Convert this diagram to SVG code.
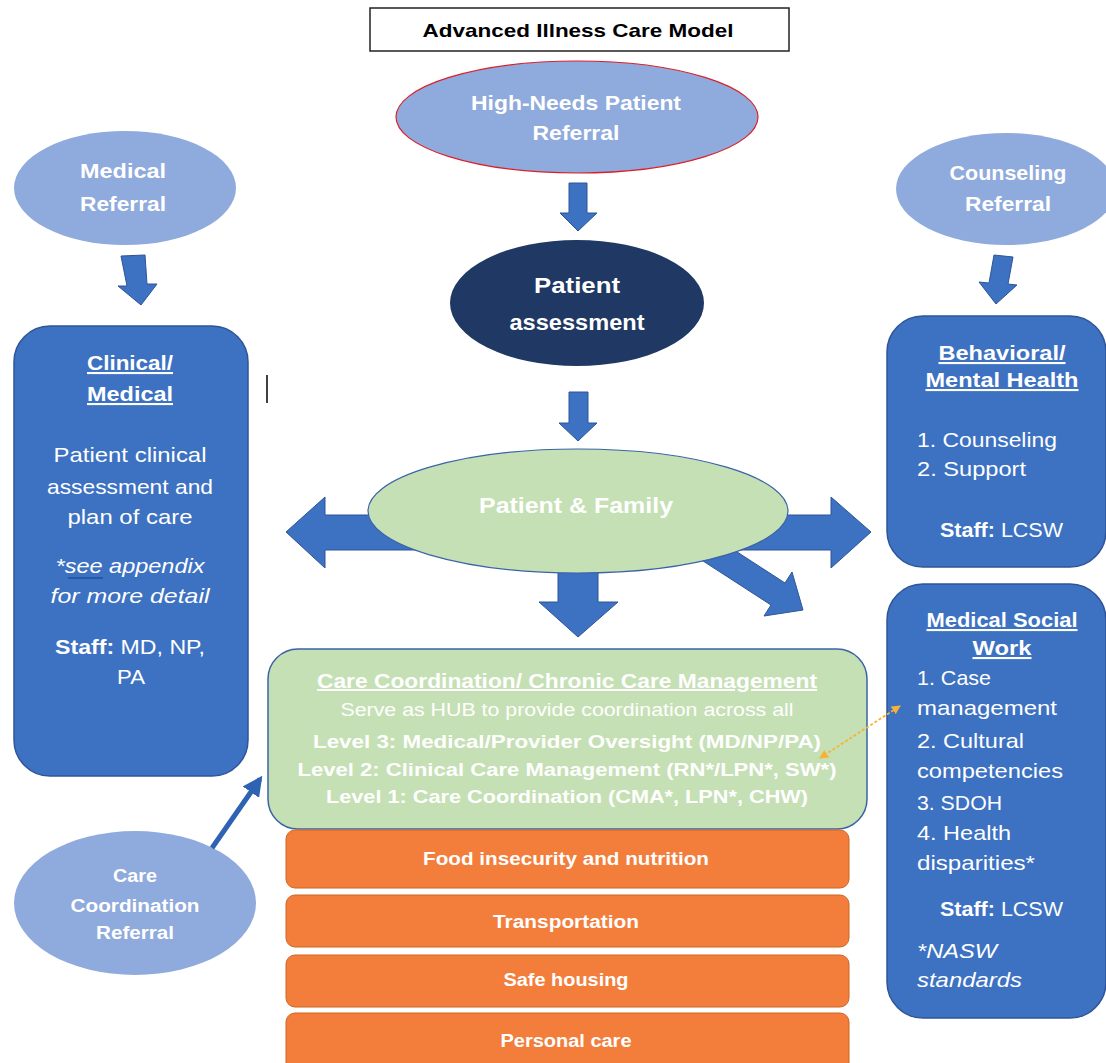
<svg xmlns="http://www.w3.org/2000/svg" width="1106" height="1063" viewBox="0 0 1106 1063">
<style>
text{font-family:"Liberation Sans",Arial,sans-serif;fill:#fff;text-anchor:middle}
.b{font-weight:bold}
.i{font-style:italic}
.u{text-decoration:underline}
.l{text-anchor:start}
.ref{fill:#8faadc}
.box{fill:#3d71c2;stroke:#2f5597;stroke-width:1.5}
.blk{fill:#3d71c2;stroke:#2f5597;stroke-width:1}
.org{fill:#f37e3b;stroke:#cc6623;stroke-width:1}
.ot{font-size:18px;font-weight:bold}
</style>
<defs>
<marker id="ah" viewBox="0 0 10 10" refX="8" refY="5" markerWidth="4" markerHeight="4" orient="auto-start-reverse"><path d="M0,0 L10,5 L0,10 Z" fill="#2e62b3"/></marker>
<marker id="oh" viewBox="0 0 10 10" refX="9" refY="5" markerWidth="9" markerHeight="9" markerUnits="userSpaceOnUse" orient="auto-start-reverse"><path d="M0,0 L10,5 L0,10 Z" fill="#f7b233"/></marker>
</defs>
<rect width="1106" height="1063" fill="#fff"/>

<g id="title">
<rect x="370" y="8" width="419" height="43" fill="#fff" stroke="#222" stroke-width="1.5"/>
<text x="578" y="37" class="b" style="fill:#000;font-size:19px" textLength="311" lengthAdjust="spacingAndGlyphs">Advanced Illness Care Model</text>
</g>

<g id="high-needs-referral">
<ellipse cx="577" cy="117" rx="181" ry="56" class="ref" stroke="#d9202a" stroke-width="1.2"/>
<text x="576" y="110" class="b" font-size="21" textLength="210" lengthAdjust="spacingAndGlyphs">High-Needs Patient</text>
<text x="576" y="140" class="b" font-size="21" textLength="87" lengthAdjust="spacingAndGlyphs">Referral</text>
</g>

<g id="medical-referral">
<ellipse cx="125" cy="188" rx="111" ry="57" class="ref"/>
<text x="123" y="178" class="b" font-size="21" textLength="86" lengthAdjust="spacingAndGlyphs">Medical</text>
<text x="123" y="211" class="b" font-size="21" textLength="86" lengthAdjust="spacingAndGlyphs">Referral</text>
</g>

<g id="counseling-referral">
<ellipse cx="1006" cy="189" rx="110" ry="56" class="ref"/>
<text x="1008" y="180" class="b" font-size="21" textLength="117" lengthAdjust="spacingAndGlyphs">Counseling</text>
<text x="1008" y="211" class="b" font-size="21" textLength="86" lengthAdjust="spacingAndGlyphs">Referral</text>
</g>

<g id="clinical-medical">
<rect x="14" y="326" width="234" height="450" rx="36" class="box"/>
<text x="130" y="370" class="b u" font-size="21" textLength="86" lengthAdjust="spacingAndGlyphs">Clinical/</text>
<text x="130" y="401" class="b u" font-size="21" textLength="86" lengthAdjust="spacingAndGlyphs">Medical</text>
<text x="130" y="462" font-size="21" textLength="153" lengthAdjust="spacingAndGlyphs">Patient clinical</text>
<text x="130" y="494" font-size="21" textLength="166" lengthAdjust="spacingAndGlyphs">assessment and</text>
<text x="130" y="524" font-size="21" textLength="125" lengthAdjust="spacingAndGlyphs">plan of care</text>
<text x="130" y="573" class="i" font-size="21" textLength="149" lengthAdjust="spacingAndGlyphs">*see appendix</text>
<line x1="68" y1="578" x2="103" y2="578" stroke="#1f4fa0" stroke-width="1.5"/>
<text x="130" y="603" class="i" font-size="21" textLength="159" lengthAdjust="spacingAndGlyphs">for more detail</text>
<text x="130" y="654" font-size="21" textLength="150" lengthAdjust="spacingAndGlyphs"><tspan class="b">Staff:</tspan> MD, NP,</text>
<text x="131" y="684" font-size="21" textLength="28" lengthAdjust="spacingAndGlyphs">PA</text>
</g>

<g id="cursor-mark">
<line x1="267" y1="375" x2="267" y2="403" stroke="#000" stroke-width="1.5"/>
</g>

<g id="behavioral-mental-health">
<rect x="887" y="316" width="219" height="251" rx="36" class="box"/>
<text x="1002" y="360" class="b u" font-size="21" textLength="127" lengthAdjust="spacingAndGlyphs">Behavioral/</text>
<text x="1002" y="387" class="b u" font-size="21" textLength="153" lengthAdjust="spacingAndGlyphs">Mental Health</text>
<text x="917" y="447" class="l" font-size="21" textLength="140" lengthAdjust="spacingAndGlyphs">1. Counseling</text>
<text x="917" y="476" class="l" font-size="21" textLength="109" lengthAdjust="spacingAndGlyphs">2. Support</text>
<text x="940" y="537" class="l" font-size="21" textLength="123" lengthAdjust="spacingAndGlyphs"><tspan class="b">Staff:</tspan> LCSW</text>
</g>

<g id="medical-social-work">
<rect x="887" y="584" width="219" height="434" rx="36" class="box"/>
<text x="1002" y="627" class="b u" font-size="21" textLength="151" lengthAdjust="spacingAndGlyphs">Medical Social</text>
<text x="1002" y="655" class="b u" font-size="21" textLength="59" lengthAdjust="spacingAndGlyphs">Work</text>
<text x="917" y="685" class="l" font-size="21" textLength="74" lengthAdjust="spacingAndGlyphs">1. Case</text>
<text x="917" y="715" class="l" font-size="21" textLength="140" lengthAdjust="spacingAndGlyphs">management</text>
<text x="917" y="748" class="l" font-size="21" textLength="107" lengthAdjust="spacingAndGlyphs">2. Cultural</text>
<text x="917" y="778" class="l" font-size="21" textLength="146" lengthAdjust="spacingAndGlyphs">competencies</text>
<text x="917" y="810" class="l" font-size="21" textLength="85" lengthAdjust="spacingAndGlyphs">3. SDOH</text>
<text x="917" y="840" class="l" font-size="21" textLength="94" lengthAdjust="spacingAndGlyphs">4. Health</text>
<text x="917" y="870" class="l" font-size="21" textLength="118" lengthAdjust="spacingAndGlyphs">disparities*</text>
<text x="940" y="916" class="l" font-size="21" textLength="123" lengthAdjust="spacingAndGlyphs"><tspan class="b">Staff:</tspan> LCSW</text>
<text x="917" y="958" class="l i" font-size="21" textLength="80" lengthAdjust="spacingAndGlyphs">*NASW</text>
<text x="917" y="987" class="l i" font-size="21" textLength="105" lengthAdjust="spacingAndGlyphs">standards</text>
</g>

<g id="care-coordination">
<rect x="268" y="649" width="599" height="180" rx="30" fill="#c5e0b4" stroke="#3a63a8" stroke-width="1.5"/>
<text x="567" y="688" class="b u" font-size="20" textLength="500" lengthAdjust="spacingAndGlyphs">Care Coordination/ Chronic Care Management</text>
<text x="567" y="716" font-size="18" textLength="453" lengthAdjust="spacingAndGlyphs">Serve as HUB to provide coordination across all</text>
<text x="567" y="748" class="b" font-size="19" textLength="508" lengthAdjust="spacingAndGlyphs">Level 3: Medical/Provider Oversight (MD/NP/PA)</text>
<text x="567" y="776" class="b" font-size="19" textLength="539" lengthAdjust="spacingAndGlyphs">Level 2: Clinical Care Management (RN*/LPN*, SW*)</text>
<text x="567" y="803" class="b" font-size="19" textLength="482" lengthAdjust="spacingAndGlyphs">Level 1: Care Coordination (CMA*, LPN*, CHW)</text>
</g>

<g id="food-insecurity">
<rect x="286" y="830" width="563" height="58" rx="9" class="org"/>
<text x="566" y="865" class="ot" textLength="286" lengthAdjust="spacingAndGlyphs">Food insecurity and nutrition</text>
</g>
<g id="transportation">
<rect x="286" y="895" width="563" height="52" rx="9" class="org"/>
<text x="566" y="928" class="ot" textLength="146" lengthAdjust="spacingAndGlyphs">Transportation</text>
</g>
<g id="safe-housing">
<rect x="286" y="955" width="563" height="52" rx="9" class="org"/>
<text x="566" y="986" class="ot" textLength="125" lengthAdjust="spacingAndGlyphs">Safe housing</text>
</g>
<g id="personal-care">
<rect x="286" y="1013" width="563" height="60" rx="9" class="org"/>
<text x="566" y="1047" class="ot" textLength="131" lengthAdjust="spacingAndGlyphs">Personal care</text>
</g>

<g id="care-coordination-referral">
<ellipse cx="135" cy="903" rx="121" ry="72" class="ref"/>
<text x="135" y="882" class="b" font-size="18" textLength="44" lengthAdjust="spacingAndGlyphs">Care</text>
<text x="135" y="912" class="b" font-size="18" textLength="129" lengthAdjust="spacingAndGlyphs">Coordination</text>
<text x="135" y="939" class="b" font-size="18" textLength="78" lengthAdjust="spacingAndGlyphs">Referral</text>
</g>

<g id="patient-assessment">
<ellipse cx="577" cy="303" rx="127" ry="63" fill="#1f3864"/>
<text x="577" y="293" class="b" font-size="22" textLength="86" lengthAdjust="spacingAndGlyphs">Patient</text>
<text x="577" y="330" class="b" font-size="22" textLength="135" lengthAdjust="spacingAndGlyphs">assessment</text>
</g>

<g id="connectors">
<polygon class="blk" points="121,256 145,255 147,284 157,284 141,305 118,286 127,286"/>
<polygon class="blk" points="569,183 587,183 587,213 597,213 578,231 560,213 569,213"/>
<polygon class="blk" points="994,255 1013,257 1008,284 1017,285 996,304 979,282 989,283"/>
<polygon class="blk" points="569,392 588,392 588,423 597,423 578,441 559,423 569,423"/>
<polygon class="blk" points="286,532 325,497 325,515 831,515 831,497 871,532 831,568 831,550 325,550 325,568"/>
<polygon class="blk" points="558,540 598,540 598,602 618,602 578,637 539,602 558,602"/>
<polygon class="blk" points="697,526 785,583 792,572 803,610 764,616 771,605 683,548"/>
<line x1="212" y1="848" x2="260" y2="779" stroke="#2e62b3" stroke-width="5" marker-end="url(#ah)"/>
<line x1="820" y1="758" x2="900" y2="706" stroke="#f7b233" stroke-width="1.8" stroke-dasharray="3 2" marker-start="url(#oh)" marker-end="url(#oh)"/>
</g>

<g id="patient-family">
<ellipse cx="578" cy="511" rx="210" ry="62" fill="#c5e0b4" stroke="#3a63a8" stroke-width="1.2"/>
<text x="576" y="513" class="b" font-size="22" textLength="194" lengthAdjust="spacingAndGlyphs">Patient &amp; Family</text>
</g>
</svg>
